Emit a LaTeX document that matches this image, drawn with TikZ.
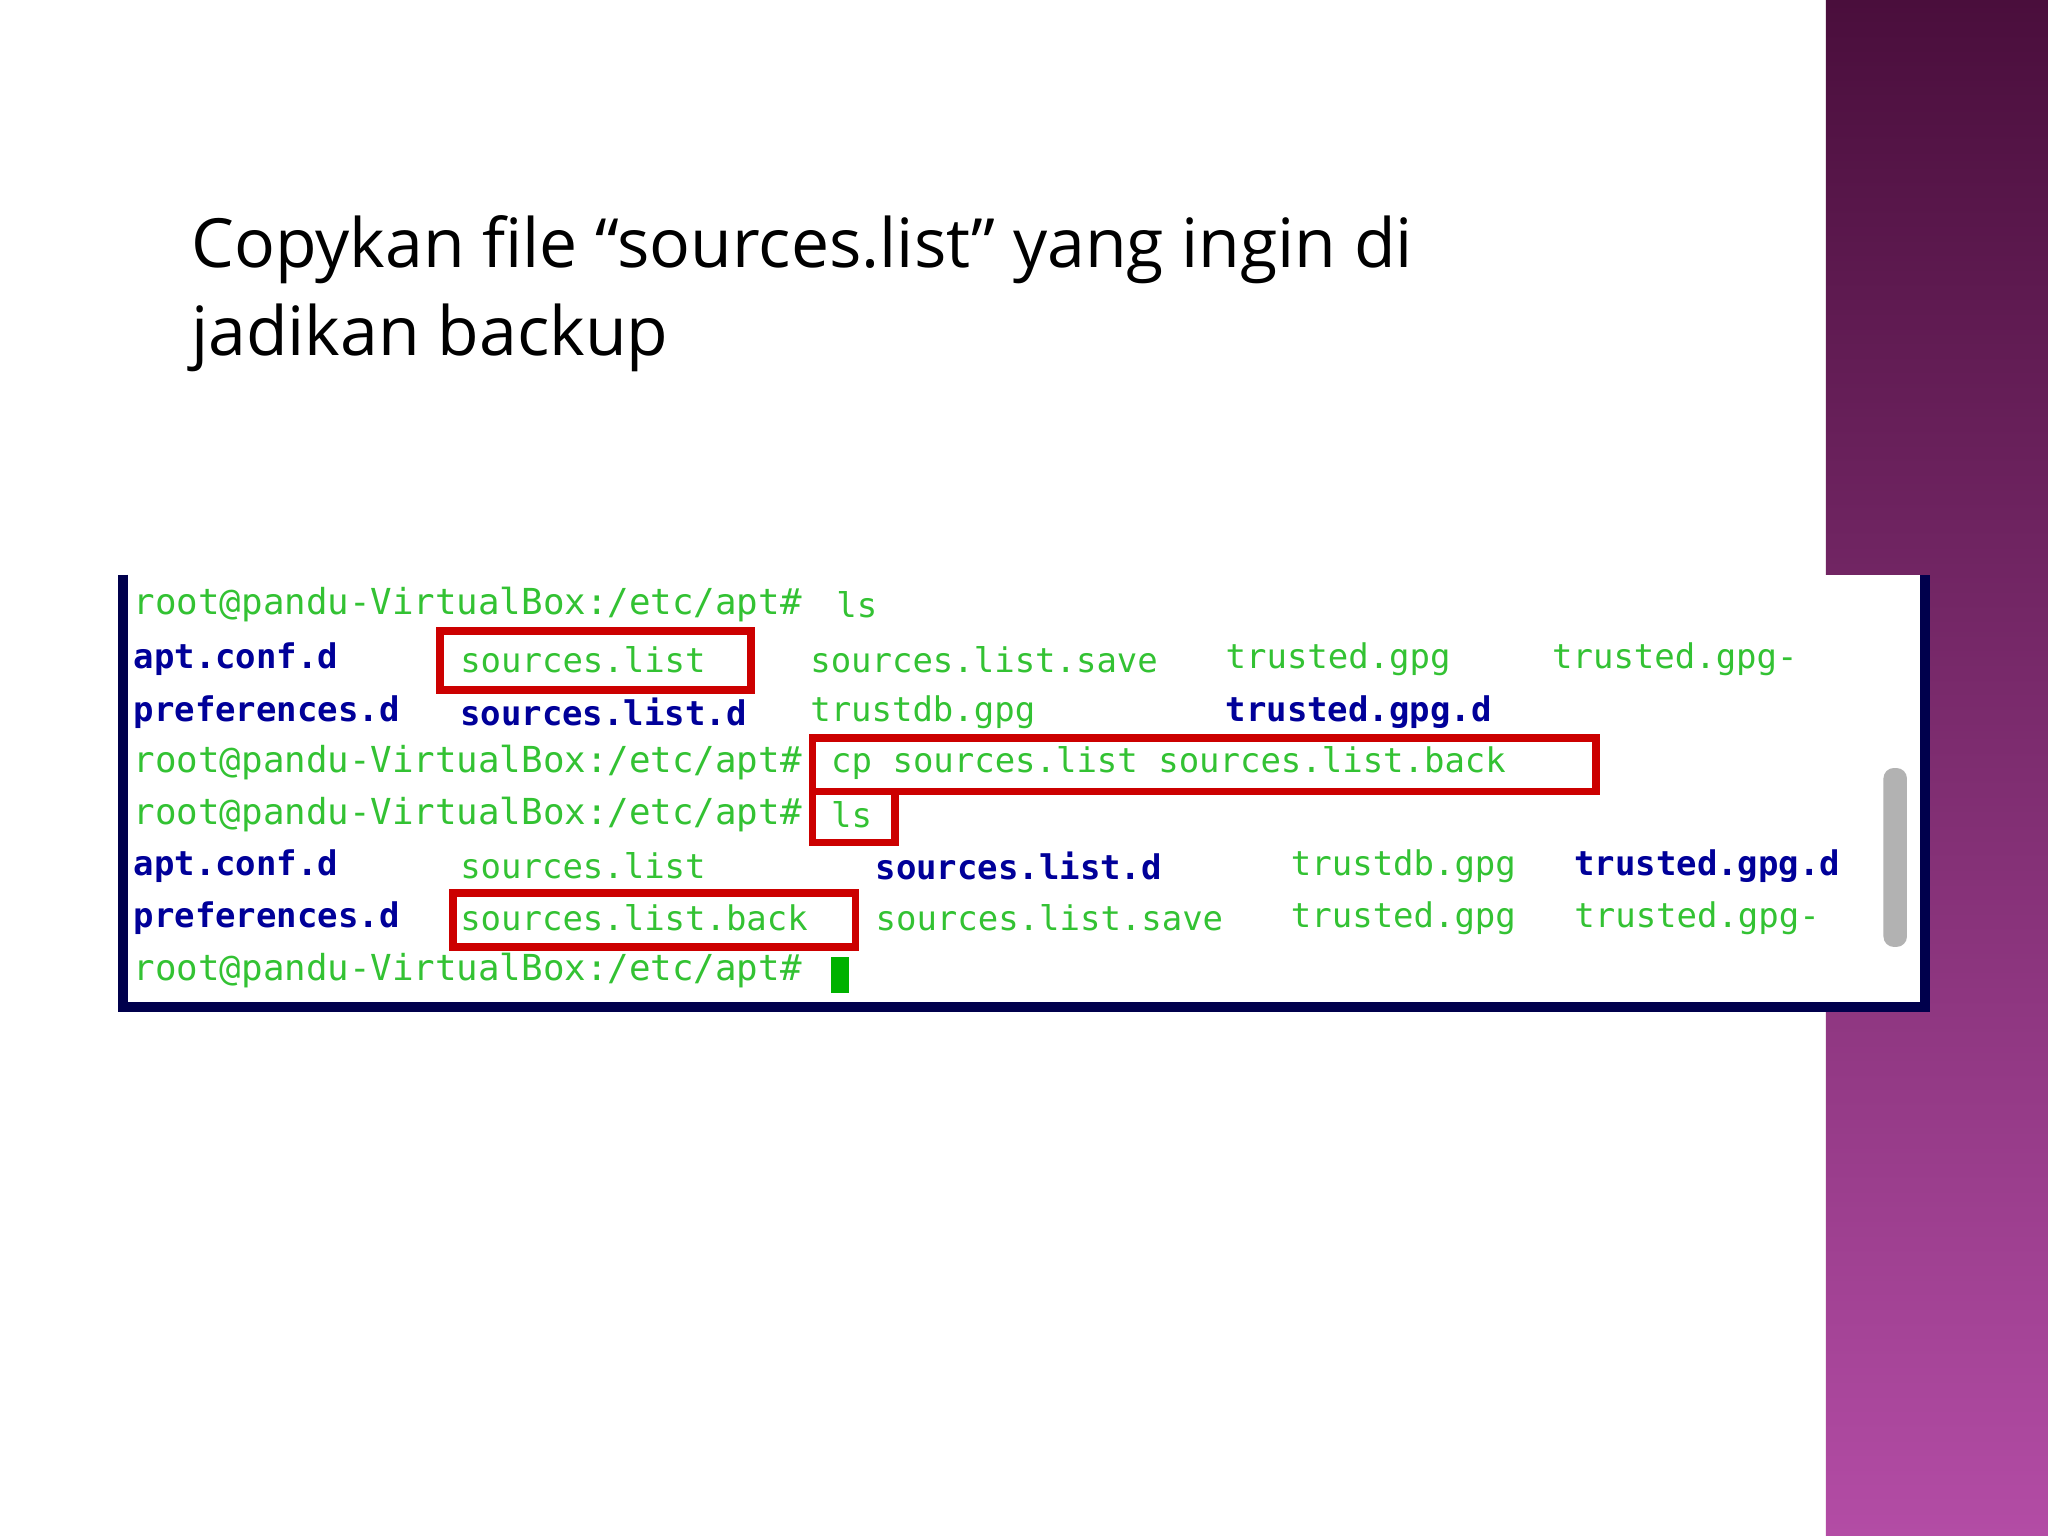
\documentclass[tikz,border=0pt]{standalone}
\usepackage{fontspec}
\setmainfont{Open Sans}
\newfontfamily\termfont{DejaVu Sans Mono}
\begin{document}
\begin{tikzpicture}[x=0.5pt,y=-0.5pt,
  tb/.style={anchor=west,inner sep=0pt,font=\termfont\bfseries\fontsize{13pt}{13pt}\selectfont,text=blue!60!black},
  tg/.style={anchor=west,inner sep=0pt,font=\termfont\fontsize{13pt}{13pt}\selectfont,text=green!70!black!80},
  tp/.style={tg,font=\termfont\fontsize{13.7pt}{13pt}\selectfont},
  redbox/.style={draw=red!80!black,line width=3pt}]
\useasboundingbox (0,0) rectangle (1568,1176);
\fill[white] (0,0) rectangle (1568,1176);
\definecolor{ptop}{HTML}{4A0E3C}\definecolor{pbot}{HTML}{B34CA5}
\shade[top color=ptop,bottom color=pbot] (1398,0) rectangle (1568,1176);
\node[anchor=base west,inner sep=0pt,font=\fontsize{26pt}{33.5pt}\selectfont,align=left] (title) at (146,272) {Copykan file “sources.list” yang ingin di\\jadikan backup};
% terminal
\fill[white] (92,440) rectangle (1476,773);
\draw[color=blue!30!black,line width=4pt] (94,440) -- (94,771) -- (1474,771) -- (1474,440);
\fill[gray!60,rounded corners=4pt] (1442,588) rectangle (1460,725);
\node[tp] (r1) at (102,463) {root@pandu-VirtualBox:/etc/apt\#};
\node[tg] (r1c) at (640,463) {ls};
\node[tb] (a1) at (102,505) {apt.conf.d};
\node[tg] (a2) at (352,505) {sources.list};
\node[tg] (a3) at (620,505) {sources.list.save};
\node[tg] (a4) at (938,505) {trusted.gpg};
\node[tg] (a5) at (1188,505) {trusted.gpg-};
\node[tb] (b1) at (102,545) {preferences.d};
\node[tb] (b2) at (352,545) {sources.list.d};
\node[tg] (b3) at (620,545) {trustdb.gpg};
\node[tb] (b4) at (938,545) {trusted.gpg.d};
\node[tp] (r2) at (102,584) {root@pandu-VirtualBox:/etc/apt\#};
\node[tg] (r2c) at (636,584) {cp sources.list sources.list.back};
\node[tp] (r3) at (102,624) {root@pandu-VirtualBox:/etc/apt\#};
\node[tg] (r3c) at (636,624) {ls};
\node[tb] (c1) at (102,663) {apt.conf.d};
\node[tg] (c2) at (352,663) {sources.list};
\node[tb] (c3) at (670,663) {sources.list.d};
\node[tg] (c4) at (988,663) {trustdb.gpg};
\node[tb] (c5) at (1205,663) {trusted.gpg.d};
\node[tb] (d1) at (102,703) {preferences.d};
\node[tg] (d2) at (352,703) {sources.list.back};
\node[tg] (d3) at (670,703) {sources.list.save};
\node[tg] (d4) at (988,703) {trusted.gpg};
\node[tg] (d5) at (1205,703) {trusted.gpg-};
\node[tp] (r4) at (102,743) {root@pandu-VirtualBox:/etc/apt\#};
\fill[green!70!black] (636,733) rectangle (650,760);
\draw[redbox] (337,483) rectangle (575,528);
\draw[redbox] (622,565) rectangle (1222,606);
\draw[redbox] (622,606) rectangle (685,645);
\draw[redbox] (347,684) rectangle (655,725);
\end{tikzpicture}
\end{document}
